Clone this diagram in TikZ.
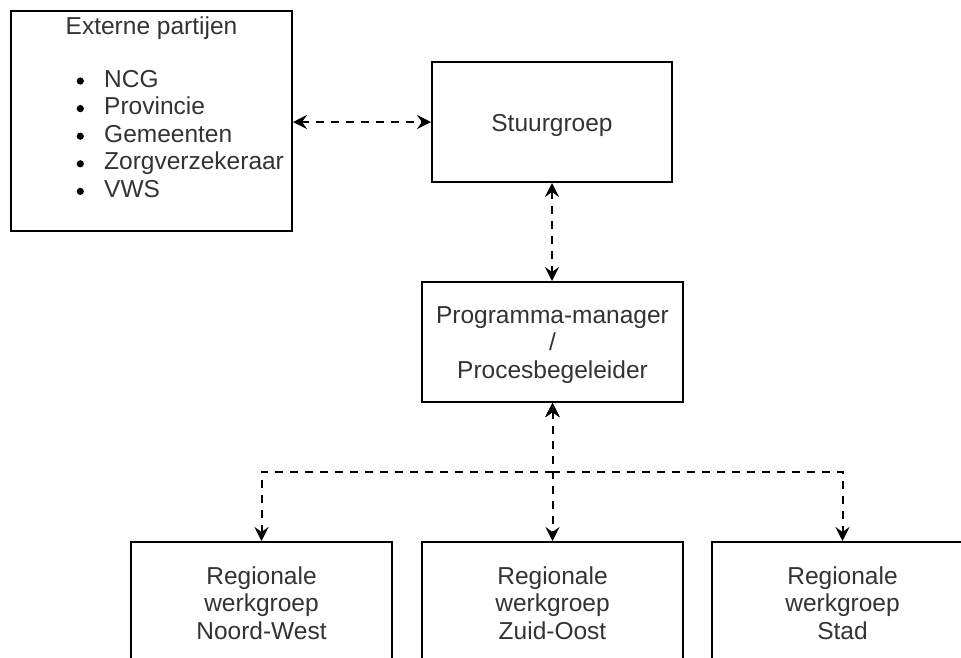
\documentclass[tikz,border=0pt]{standalone}
\usepackage{fontspec}
\setmainfont{Liberation Sans}
\usetikzlibrary{arrows.meta}
\definecolor{txtgray}{RGB}{51,51,51}
\newcommand{\mybullet}{\makebox[28pt][l]{\hspace{0.5pt}\tikz[baseline=0pt]\fill[black] (0pt,6pt) circle (3.6pt);}}
\begin{document}
\begin{tikzpicture}[x=1pt,y=-1pt,
  box/.style={draw=black, line width=2pt, fill=white, inner sep=0pt},
  lbl/.style={inner sep=0pt, anchor=base, text=txtgray, font=\fontsize{24.5}{27.6}\selectfont},
  tipa/.tip={Stealth[length=14pt,width=14pt,inset=5pt]},
  link/.style={line width=2pt, dash pattern=on 8pt off 7pt},
  both/.style={link, tipa-tipa}]
\path[use as bounding box, fill=white] (0,0) rectangle (961,657);
\clip (0,0) rectangle (961,657);
% boxes
\node[box, minimum width=281pt, minimum height=220pt] (ext) at (151.5,121) {};
\node[box, minimum width=240pt, minimum height=120pt] (stuur) at (552,122) {};
\node[box, minimum width=261pt, minimum height=120pt] (prog) at (552.5,342) {};
\node[box, minimum width=261pt, minimum height=120pt] (r1) at (261.5,602) {};
\node[box, minimum width=261pt, minimum height=120pt] (r2) at (552.5,602) {};
\node[box, minimum width=261pt, minimum height=120pt] (r3) at (842.5,602) {};
% texts
\node[lbl] (extt) at (151.5,34) {Externe partijen};
\node[lbl, anchor=base west] (extl) at (76,87) {\begin{tabular}[t]{@{}l@{}}
\mybullet NCG\\
\mybullet Provincie\\
\mybullet Gemeenten\\
\mybullet Zorgverzekeraar\\
\mybullet VWS
\end{tabular}};
\node[lbl] (stuurt) at (552,131) {Stuurgroep};
\node[lbl] (progt) at (552.5,323) {\begin{tabular}[t]{@{}c@{}}Programma-manager\\/\\Procesbegeleider\end{tabular}};
\node[lbl] (r1t) at (261.5,584) {\begin{tabular}[t]{@{}c@{}}Regionale\\werkgroep\\Noord-West\end{tabular}};
\node[lbl] (r2t) at (552.5,584) {\begin{tabular}[t]{@{}c@{}}Regionale\\werkgroep\\Zuid-Oost\end{tabular}};
\node[lbl] (r3t) at (842.5,584) {\begin{tabular}[t]{@{}c@{}}Regionale\\werkgroep\\Stad\end{tabular}};
% connectors
\draw[both] (ext.east |- stuur.west) -- (stuur.west);
\draw[both] (stuur.south) -- (stuur.south |- prog.north);
\coordinate (split) at (552.5,472);
\draw[both] (prog.south) -- (r2.north);
\draw[both] (prog.south) -- (split) -| (r1.north);
\draw[both] (prog.south) -- (split) -| (r3.north);
\end{tikzpicture}
\end{document}
